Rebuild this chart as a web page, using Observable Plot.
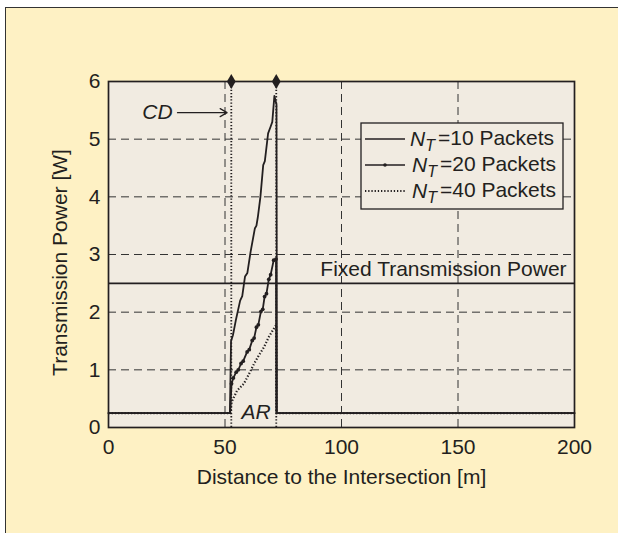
<!DOCTYPE html>
<html>
<head>
<meta charset="utf-8">
<script src="https://cdn.jsdelivr.net/npm/d3@7"></script>
<script src="https://cdn.jsdelivr.net/npm/@observablehq/plot@0.6"></script>
<style>
  html, body { margin: 0; padding: 0; background: #ffffff; }
  #wrap { position: relative; width: 618px; height: 533px; overflow: hidden; }
  #panel { position: absolute; left: 5px; top: 7px; width: 640px; height: 560px;
           background: #FEF1C4; border-left: 1.5px solid #333; border-top: 1.5px solid #333; }
  #chart { position: absolute; left: 0; top: 0; }
</style>
</head>
<body>
<div id="wrap"><div id="panel"></div><div id="chart"></div></div>
<script>
// ---- data ----
const xTicks = [0, 50, 100, 150, 200];
const yTicks = [0, 1, 2, 3, 4, 5, 6];

const dist10  = [0, 52.1, 52.6, 53.4, 54.6, 56.5, 57.4, 58.6, 59.6, 61.0, 62.8, 63.5, 64.1, 65.2, 66.4, 67.1, 68.5, 69.6, 70.3, 71.2, 72.1, 72.3, 200];
const power10 = [0.25, 0.25, 1.5, 1.6, 1.85, 2.2, 2.28, 2.62, 2.68, 3.05, 3.45, 3.5, 3.65, 4.0, 4.55, 4.62, 5.1, 5.22, 5.3, 5.75, 5.6, 0.25, 0.25];

const dist20  = [0, 52.2, 52.8, 53.6, 54.8, 55.7, 56.9, 57.8, 59.5, 60.4, 61.7, 62.5, 63.5, 64.3, 65.4, 66.2, 67.0, 67.8, 68.8, 69.6, 70.9, 71.9, 72.0, 200];
const power20 = [0.25, 0.25, 0.76, 0.86, 0.96, 1.0, 1.11, 1.15, 1.31, 1.35, 1.51, 1.55, 1.74, 1.78, 2.01, 2.05, 2.27, 2.32, 2.57, 2.65, 2.9, 2.92, 0.25, 0.25];

const dist40  = [0, 52.3, 52.8, 55.2, 58.1, 60.2, 62.4, 64.5, 66.7, 68.8, 71.2, 72.0, 72.1, 200];
const power40 = [0.25, 0.25, 0.44, 0.64, 0.76, 0.92, 1.1, 1.25, 1.39, 1.57, 1.73, 1.78, 0.25, 0.25];

const fixedPower = 2.5;
const boundaryX = [52.7, 72.0];   // CD and AR limits
const cdArrow = {x1: 29.6, x2: 50.9, y: 5.46};
const cdLabel = {x: 27.5, y: 5.46, text: "CD"};
const arLabel = {x: 63.3, y: 0.26, text: "AR"};
const fixedLabel = {x: 196.6, y: 2.74, text: "Fixed Transmission Power"};
const legendLabels = ["=10 Packets", "=20 Packets", "=40 Packets"];

const s10 = dist10.map((d, i) => ({x: d, y: power10[i]}));
const s20 = dist20.map((d, i) => ({x: d, y: power20[i]}));
const s40 = dist40.map((d, i) => ({x: d, y: power40[i]}));
const s20markers = s20.filter(d => d.x > 52.5 && d.x < 71.95);

const ink = "#231f20";
const font = "'Liberation Sans', Arial, Helvetica, sans-serif";
const fs = 21;
const dots = "1.3,1.9";

const plot = Plot.plot({
  width: 618, height: 533,
  marginLeft: 108, marginRight: 44, marginTop: 81, marginBottom: 106,
  style: {background: "transparent", fontFamily: font, fontSize: fs + "px", color: ink},
  x: {domain: [0, 200]},
  y: {domain: [0, 6]},
  marks: [
    Plot.frame({fill: "#F1EBE1"}),
    Plot.gridX(xTicks.slice(1, -1), {stroke: "#333", strokeOpacity: 1, strokeWidth: 1, strokeDasharray: "8,5"}),
    Plot.gridY(yTicks.slice(1, -1), {stroke: "#333", strokeOpacity: 1, strokeWidth: 1, strokeDasharray: "8,5"}),
    Plot.ruleY([fixedPower], {stroke: ink, strokeWidth: 1.7}),
    Plot.ruleX(boundaryX, {y1: 0, y2: 6, stroke: ink, strokeWidth: 1.8, strokeDasharray: dots, strokeLinecap: "butt"}),
    Plot.line(s40, {x: "x", y: "y", stroke: ink, strokeWidth: 2.2, strokeDasharray: dots, strokeLinecap: "butt"}),
    Plot.line(s20, {x: "x", y: "y", stroke: ink, strokeWidth: 1.8}),
    Plot.dot(s20markers, {x: "x", y: "y", r: 1.9, fill: ink}),
    Plot.line(s10, {x: "x", y: "y", stroke: ink, strokeWidth: 1.8}),
    Plot.dot(boundaryX, {x: d => d, y: () => 6, symbol: "diamond", r: 4.6, fill: ink}),
    Plot.arrow([cdArrow], {x1: "x1", x2: "x2", y1: "y", y2: "y", stroke: ink, strokeWidth: 1.2, headLength: 10}),
    Plot.text([cdLabel], {x: "x", y: "y", text: "text", textAnchor: "end", fontStyle: "italic", fontSize: fs, fill: ink}),
    Plot.text([arLabel], {x: "x", y: "y", text: "text", fontStyle: "italic", fontSize: fs, fill: ink}),
    Plot.text([fixedLabel], {x: "x", y: "y", text: "text", textAnchor: "end", fontSize: fs, fill: ink}),
    Plot.frame({stroke: ink, strokeWidth: 1.7}),
    Plot.axisX(xTicks, {tickSize: 0, tickPadding: 12, fontSize: fs, label: null, fill: ink, tickFormat: d3.format("d")}),
    Plot.axisY(yTicks, {tickSize: 0, tickPadding: 8, fontSize: fs, label: null, fill: ink, tickFormat: d3.format("d")}),
    Plot.text(["Distance to the Intersection [m]"], {frameAnchor: "bottom", dy: 56, fontSize: fs, fill: ink}),
    Plot.text(["Transmission Power [W]"], {frameAnchor: "left", textAnchor: "middle", dx: -48, dy: 8, rotate: -90, fontSize: fs, fill: ink})
  ]
});

// ---- legend (inside the plot, upper right) ----
const svg = d3.select(plot);
const lg = svg.append("g").attr("font-family", font).attr("font-size", fs).attr("fill", ink).attr("text-anchor", "start");
const bx = 361, by = 123, bw = 202, bh = 86;
lg.append("rect").attr("x", bx).attr("y", by).attr("width", bw).attr("height", bh)
  .attr("fill", "#F1EBE1").attr("stroke", ink).attr("stroke-width", 1.3);
const rowY = [139, 165, 191];
const styles = [{dash: null, marker: false}, {dash: null, marker: true}, {dash: dots, marker: false}];
legendLabels.forEach((lab, i) => {
  const y = rowY[i];
  lg.append("line").attr("x1", 365).attr("x2", 405).attr("y1", y).attr("y2", y)
    .attr("stroke", ink).attr("stroke-width", styles[i].dash ? 1.8 : 1.5)
    .attr("stroke-dasharray", styles[i].dash);
  if (styles[i].marker) lg.append("circle").attr("cx", 385).attr("cy", y).attr("r", 1.8).attr("fill", ink);
  const t = lg.append("text").attr("x", i === 0 ? 410 : 412).attr("y", y).attr("dy", "0.35em");
  t.append("tspan").attr("font-style", "italic").text("N");
  t.append("tspan").attr("font-style", "italic").attr("font-size", 16).attr("dy", "0.3em").text("T");
  t.append("tspan").attr("dy", "-0.3em").attr("dx", 3).text(lab);
});

document.getElementById("chart").appendChild(plot);
</script>
</body>
</html>
